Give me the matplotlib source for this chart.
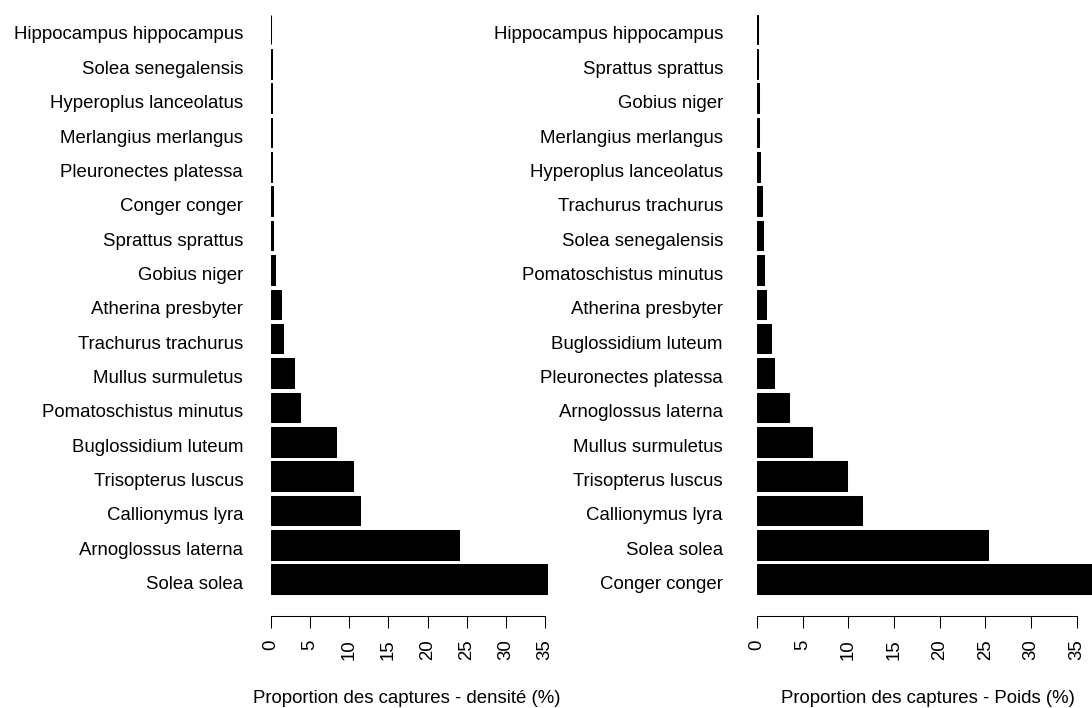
import matplotlib
matplotlib.use("Agg")
import matplotlib.pyplot as plt
from matplotlib.transforms import ScaledTranslation

plt.rcParams["font.family"] = ["Liberation Sans", "DejaVu Sans"]
FS = 13.4

# capture share by density (%), bottom bar first
dens_species = ["Solea solea", "Arnoglossus laterna", "Callionymus lyra",
                "Trisopterus luscus", "Buglossidium luteum",
                "Pomatoschistus minutus", "Mullus surmuletus",
                "Trachurus trachurus", "Atherina presbyter", "Gobius niger",
                "Sprattus sprattus", "Conger conger", "Pleuronectes platessa",
                "Merlangius merlangus", "Hyperoplus lanceolatus",
                "Solea senegalensis", "Hippocampus hippocampus"]
dens_values = [35.3, 24.05, 11.4, 10.5, 8.35, 3.75, 3.0, 1.5, 1.3, 0.45,
               0.22, 0.2, 0.15, 0.12, 0.1, 0.08, 0.06]

# capture share by weight (%), bottom bar first
poids_species = ["Conger conger", "Solea solea", "Callionymus lyra",
                 "Trisopterus luscus", "Mullus surmuletus",
                 "Arnoglossus laterna", "Pleuronectes platessa",
                 "Buglossidium luteum", "Atherina presbyter",
                 "Pomatoschistus minutus", "Solea senegalensis",
                 "Trachurus trachurus", "Hyperoplus lanceolatus",
                 "Merlangius merlangus", "Gobius niger", "Sprattus sprattus",
                 "Hippocampus hippocampus"]
poids_values = [38.0, 25.25, 11.5, 9.8, 6.05, 3.45, 1.85, 1.5, 1.0, 0.72,
                0.69, 0.58, 0.29, 0.2, 0.18, 0.1, 0.06]

W, H = 1092, 708
fig = plt.figure(figsize=(W / 100, H / 100), dpi=100)

bottom = (H - 615.7) / H
height = 615.7 / H


def panel(left_px, width_px, scale, species, values, label, label_x, pad):
    ax = fig.add_axes([left_px / W, bottom, width_px / W, height])
    pos = range(len(values))
    ax.barh(pos, values, height=0.86, color="black", edgecolor="black",
            linewidth=0.75)
    ax.set_xlim(0, width_px / scale)
    ax.set_ylim(-1.062, 16.857)
    for s in ["top", "right", "left"]:
        ax.spines[s].set_visible(False)
    ax.spines["bottom"].set_bounds(0, 35)
    ax.spines["bottom"].set_linewidth(0.75)
    ax.set_xticks(range(0, 36, 5))
    ax.set_xticklabels([str(v) for v in range(0, 36, 5)], rotation=90,
                       fontsize=FS)
    ax.tick_params(axis="x", length=8.9, width=0.75, pad=8)
    ax.set_yticks(list(pos))
    ax.set_yticklabels(species, fontsize=FS)
    ax.tick_params(axis="y", length=0, pad=pad)
    # species names sit a little below the bar centres
    shift = ScaledTranslation(0, -3.5 / 100, fig.dpi_scale_trans)
    for lbl in ax.get_yticklabels():
        lbl.set_transform(lbl.get_transform() + shift)
    fig.text(label_x / W, (H - 703) / H, label, ha="center", va="baseline",
             fontsize=FS)
    return ax


panel(271, 290, 274 / 35, dens_species, dens_values,
      "Proportion des captures - densité (%)", 407, 20)
panel(757, 335, 319.7 / 35, poids_species, poids_values,
      "Proportion des captures - Poids (%)", 928, 24.5)

fig.savefig("out.png", dpi=100)
